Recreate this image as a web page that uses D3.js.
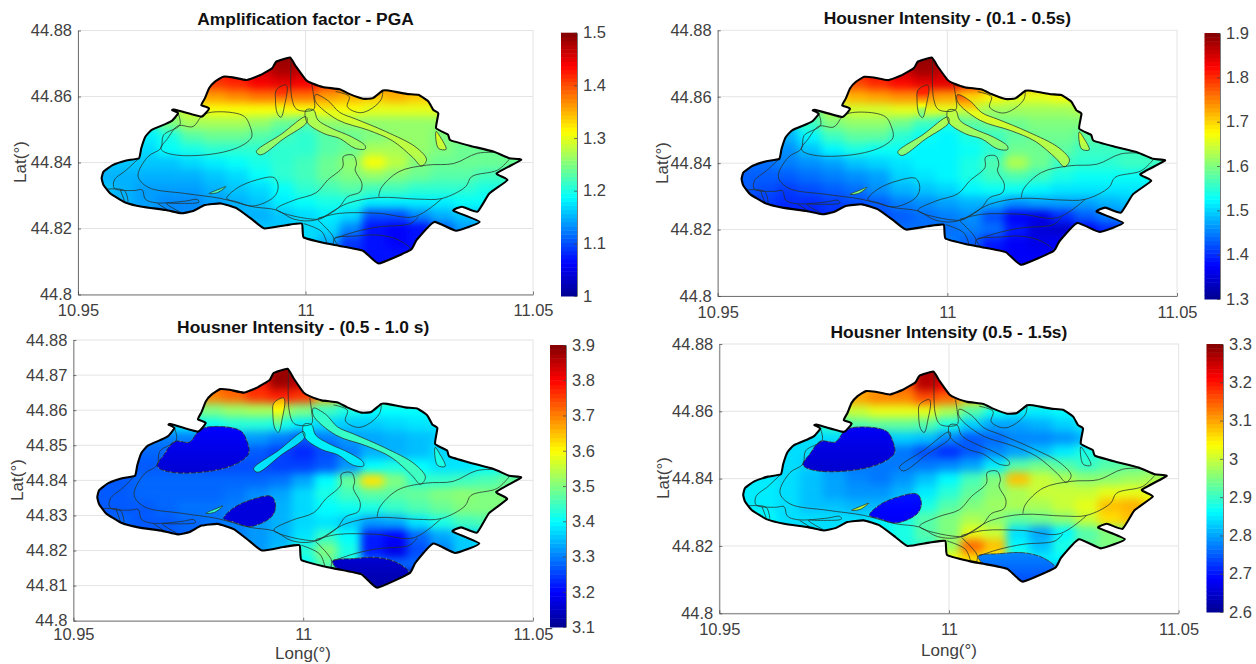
<!DOCTYPE html>
<html>
<head>
<meta charset="utf-8">
<script src="https://cdn.jsdelivr.net/npm/d3@7"></script>
<style>
  html, body { margin: 0; background: #fff; }
  text { font-family: "Liberation Sans", Arial, sans-serif; }
  .axis text { font-size: 16.5px; fill: #404040; }
  .axis path, .axis line { stroke: #404040; stroke-width: .7; }
  .grid line { stroke: #e4e4e4; stroke-width: 1; }
  .frame { fill: none; stroke: #e4e4e4; }
  .title { font-size: 17.4px; font-weight: bold; fill: #111; text-anchor: middle; }
  .lab { font-size: 17px; fill: #404040; text-anchor: middle; }
  .inner { fill: none; stroke: #26302c; stroke-width: .9; stroke-opacity: .85; }
  .coast { fill: none; stroke: #000; stroke-width: 2.1; stroke-linejoin: round; }
</style>
</head>
<body>
<div id="plot"></div>
<script>
const w = 1256, h = 664

// grid of the map cells
const gridLon = [10.955,10.96,10.965,10.97,10.975,10.98,10.985,10.99,10.995,11,11.005,11.01,11.015,11.02,11.025,11.03,11.035,11.04,11.045]
const gridLat = [44.872,44.868,44.864,44.86,44.856,44.852,44.848,44.844,44.84,44.836,44.832,44.828,44.824,44.82,44.816,44.812,44.808]

const ampPGA = [
  [1.4,1.4,1.4,1.4,1.4,1.42,1.44,1.46,1.49,1.49,1.46,1.42,1.4,1.4,1.38,1.35,1.3,1.3,1.3],
  [1.4,1.4,1.4,1.4,1.42,1.43,1.44,1.46,1.48,1.47,1.44,1.42,1.4,1.38,1.36,1.34,1.3,1.3,1.3],
  [1.35,1.35,1.35,1.36,1.38,1.41,1.42,1.44,1.45,1.44,1.41,1.39,1.38,1.37,1.35,1.33,1.3,1.28,1.26],
  [1.3,1.3,1.3,1.31,1.34,1.36,1.37,1.38,1.38,1.38,1.36,1.35,1.34,1.35,1.34,1.33,1.3,1.28,1.26],
  [1.25,1.25,1.25,1.27,1.29,1.31,1.31,1.31,1.31,1.31,1.31,1.31,1.3,1.3,1.3,1.3,1.28,1.26,1.25],
  [1.2,1.2,1.2,1.25,1.27,1.27,1.27,1.26,1.24,1.23,1.26,1.26,1.26,1.26,1.26,1.26,1.26,1.25,1.24],
  [1.18,1.18,1.18,1.2,1.23,1.24,1.24,1.23,1.22,1.21,1.23,1.24,1.25,1.26,1.26,1.25,1.25,1.24,1.24],
  [1.17,1.17,1.17,1.19,1.2,1.21,1.21,1.21,1.21,1.21,1.23,1.24,1.27,1.27,1.26,1.25,1.24,1.24,1.24],
  [1.16,1.16,1.16,1.16,1.17,1.18,1.19,1.2,1.21,1.22,1.24,1.26,1.31,1.28,1.25,1.24,1.24,1.24,1.24],
  [1.15,1.15,1.15,1.15,1.15,1.16,1.17,1.19,1.21,1.22,1.24,1.25,1.26,1.25,1.24,1.23,1.23,1.22,1.22],
  [1.16,1.15,1.14,1.14,1.14,1.15,1.16,1.17,1.19,1.21,1.22,1.23,1.22,1.22,1.21,1.21,1.21,1.2,1.2],
  [1.17,1.15,1.14,1.13,1.13,1.14,1.15,1.16,1.18,1.19,1.2,1.2,1.18,1.18,1.18,1.18,1.19,1.19,1.19],
  [1.17,1.15,1.14,1.13,1.13,1.14,1.15,1.15,1.16,1.17,1.18,1.17,1.1,1.1,1.13,1.15,1.16,1.16,1.16],
  [1.15,1.15,1.14,1.14,1.14,1.15,1.15,1.16,1.16,1.17,1.17,1.13,1.07,1.06,1.07,1.11,1.14,1.15,1.15],
  [1.15,1.15,1.15,1.15,1.15,1.15,1.15,1.16,1.16,1.17,1.15,1.09,1.07,1.06,1.07,1.1,1.12,1.14,1.15],
  [1.15,1.15,1.15,1.15,1.15,1.15,1.15,1.15,1.16,1.15,1.1,1.08,1.07,1.07,1.07,1.09,1.1,1.12,1.14],
  [1.15,1.15,1.15,1.15,1.15,1.15,1.15,1.15,1.16,1.15,1.1,1.08,1.07,1.07,1.07,1.09,1.1,1.12,1.14]
]

const housner0105 = [
  [1.8,1.8,1.8,1.8,1.8,1.82,1.84,1.86,1.89,1.89,1.86,1.82,1.8,1.78,1.76,1.72,1.68,1.65,1.62],
  [1.8,1.8,1.8,1.8,1.8,1.82,1.84,1.86,1.88,1.86,1.83,1.8,1.78,1.76,1.74,1.7,1.66,1.62,1.6],
  [1.72,1.72,1.72,1.74,1.76,1.78,1.8,1.82,1.84,1.84,1.8,1.76,1.74,1.72,1.72,1.7,1.65,1.62,1.6],
  [1.62,1.62,1.62,1.64,1.68,1.72,1.73,1.74,1.74,1.73,1.7,1.68,1.66,1.66,1.67,1.66,1.63,1.6,1.58],
  [1.56,1.56,1.56,1.58,1.63,1.65,1.65,1.66,1.66,1.66,1.64,1.62,1.62,1.62,1.62,1.63,1.6,1.58,1.56],
  [1.5,1.5,1.5,1.56,1.6,1.61,1.61,1.59,1.56,1.54,1.58,1.59,1.59,1.6,1.6,1.6,1.58,1.56,1.56],
  [1.48,1.48,1.48,1.52,1.56,1.58,1.58,1.55,1.53,1.52,1.54,1.56,1.58,1.59,1.59,1.58,1.57,1.56,1.56],
  [1.45,1.45,1.46,1.49,1.52,1.54,1.53,1.53,1.52,1.52,1.53,1.55,1.59,1.59,1.58,1.56,1.56,1.56,1.56],
  [1.44,1.44,1.45,1.46,1.47,1.49,1.5,1.51,1.52,1.52,1.54,1.57,1.63,1.59,1.56,1.55,1.55,1.56,1.56],
  [1.43,1.43,1.43,1.44,1.45,1.46,1.47,1.5,1.51,1.52,1.54,1.56,1.57,1.56,1.54,1.53,1.53,1.53,1.53],
  [1.43,1.42,1.41,1.42,1.43,1.44,1.46,1.48,1.49,1.5,1.52,1.53,1.53,1.52,1.51,1.51,1.51,1.51,1.51],
  [1.41,1.41,1.4,1.4,1.41,1.42,1.43,1.45,1.46,1.47,1.48,1.48,1.46,1.47,1.47,1.47,1.48,1.49,1.49],
  [1.4,1.4,1.39,1.39,1.4,1.41,1.42,1.43,1.44,1.45,1.46,1.42,1.37,1.36,1.4,1.43,1.45,1.45,1.45],
  [1.4,1.4,1.4,1.4,1.4,1.41,1.43,1.44,1.44,1.44,1.45,1.44,1.39,1.35,1.34,1.37,1.4,1.42,1.43],
  [1.4,1.4,1.4,1.4,1.4,1.41,1.43,1.44,1.44,1.45,1.43,1.39,1.37,1.36,1.37,1.38,1.4,1.42,1.43],
  [1.4,1.4,1.4,1.4,1.4,1.41,1.43,1.44,1.44,1.44,1.42,1.38,1.37,1.37,1.37,1.38,1.4,1.42,1.43],
  [1.4,1.4,1.4,1.4,1.4,1.41,1.43,1.44,1.44,1.44,1.42,1.38,1.37,1.37,1.37,1.38,1.4,1.42,1.43]
]

const housner0510 = [
  [3.7,3.7,3.7,3.7,3.7,3.72,3.74,3.78,3.88,3.88,3.8,3.65,3.5,3.5,3.5,3.5,3.5,3.5,3.5],
  [3.7,3.7,3.7,3.7,3.7,3.72,3.74,3.78,3.88,3.85,3.75,3.65,3.5,3.5,3.45,3.45,3.45,3.45,3.45],
  [3.6,3.6,3.6,3.62,3.66,3.7,3.72,3.76,3.78,3.76,3.66,3.56,3.52,3.5,3.48,3.45,3.42,3.42,3.42],
  [3.45,3.45,3.45,3.45,3.48,3.5,3.52,3.53,3.53,3.5,3.45,3.42,3.4,3.4,3.4,3.4,3.4,3.38,3.38],
  [3.38,3.38,3.38,3.38,3.39,3.41,3.43,3.43,3.42,3.39,3.37,3.36,3.36,3.37,3.38,3.38,3.38,3.38,3.38],
  [3.3,3.3,3.3,3.3,3.3,3.32,3.33,3.32,3.3,3.27,3.3,3.32,3.33,3.34,3.35,3.36,3.38,3.38,3.38],
  [3.28,3.28,3.28,3.28,3.27,3.28,3.28,3.27,3.25,3.23,3.26,3.3,3.34,3.34,3.35,3.37,3.38,3.38,3.38],
  [3.27,3.27,3.27,3.27,3.27,3.26,3.26,3.26,3.25,3.25,3.27,3.32,3.4,3.42,3.4,3.38,3.38,3.4,3.42],
  [3.27,3.27,3.28,3.28,3.28,3.28,3.28,3.28,3.29,3.33,3.4,3.48,3.62,3.5,3.44,3.44,3.45,3.46,3.48],
  [3.27,3.27,3.28,3.28,3.28,3.28,3.29,3.31,3.33,3.37,3.42,3.45,3.47,3.47,3.48,3.5,3.51,3.5,3.5],
  [3.27,3.27,3.27,3.28,3.29,3.29,3.3,3.32,3.34,3.37,3.4,3.41,3.42,3.44,3.46,3.48,3.5,3.5,3.5],
  [3.28,3.28,3.27,3.27,3.28,3.29,3.3,3.32,3.34,3.37,3.38,3.36,3.32,3.33,3.38,3.42,3.45,3.46,3.46],
  [3.28,3.28,3.27,3.27,3.28,3.29,3.3,3.32,3.34,3.38,3.44,3.4,3.22,3.2,3.28,3.33,3.36,3.38,3.38],
  [3.28,3.28,3.28,3.28,3.28,3.29,3.3,3.32,3.35,3.43,3.5,3.42,3.22,3.18,3.26,3.3,3.36,3.38,3.38],
  [3.28,3.28,3.28,3.28,3.28,3.29,3.3,3.32,3.35,3.4,3.47,3.42,3.3,3.28,3.28,3.3,3.3,3.36,3.38],
  [3.28,3.28,3.28,3.28,3.28,3.29,3.3,3.32,3.35,3.38,3.4,3.35,3.2,3.15,3.15,3.2,3.3,3.36,3.38],
  [3.28,3.28,3.28,3.28,3.28,3.29,3.3,3.32,3.35,3.38,3.4,3.35,3.2,3.15,3.15,3.2,3.3,3.36,3.38]
]

const housner0515 = [
  [3.1,3.1,3.1,3.1,3.1,3.1,3.1,3.12,3.27,3.27,3.2,3.1,3,3,3,3,3,3,3],
  [3.1,3.1,3.1,3.1,3.1,3.1,3.1,3.15,3.26,3.22,3.12,3.05,3,2.95,2.92,2.9,2.9,2.9,2.9],
  [3.05,3.05,3.05,3.05,3.07,3.1,3.12,3.12,3.16,3.14,3.07,3.02,2.95,2.92,2.92,2.9,2.88,2.88,2.88],
  [2.95,2.95,2.95,2.95,2.98,3,3.02,3.02,3.02,2.98,2.92,2.87,2.85,2.85,2.86,2.86,2.86,2.86,2.86],
  [2.88,2.88,2.88,2.88,2.9,2.92,2.93,2.93,2.92,2.88,2.83,2.8,2.8,2.81,2.83,2.85,2.86,2.86,2.86],
  [2.84,2.84,2.84,2.84,2.84,2.82,2.82,2.83,2.82,2.78,2.75,2.76,2.78,2.78,2.79,2.81,2.84,2.86,2.87],
  [2.84,2.84,2.84,2.84,2.8,2.78,2.78,2.77,2.74,2.72,2.75,2.78,2.8,2.82,2.85,2.88,2.9,2.9,2.9],
  [2.84,2.84,2.84,2.83,2.79,2.77,2.77,2.77,2.77,2.78,2.8,2.85,2.92,2.94,2.92,2.9,2.92,2.93,2.94],
  [2.85,2.85,2.84,2.82,2.8,2.78,2.77,2.79,2.82,2.86,2.91,2.95,3.08,3,2.98,2.96,2.96,2.97,2.98],
  [2.85,2.85,2.84,2.82,2.8,2.79,2.79,2.81,2.85,2.89,2.93,2.96,2.98,3,3,3,3.02,3.02,3.02],
  [2.85,2.85,2.84,2.82,2.82,2.81,2.81,2.84,2.88,2.92,2.95,2.97,2.98,2.98,3,3.02,3.08,3.09,3.05],
  [2.86,2.86,2.84,2.84,2.84,2.84,2.85,2.88,2.92,2.95,2.98,2.96,2.93,2.94,2.96,3,3.06,3.08,3.05],
  [2.86,2.86,2.84,2.84,2.84,2.85,2.86,2.88,2.92,2.95,3.02,3,2.84,2.8,2.86,2.92,2.95,2.96,2.96],
  [2.86,2.86,2.84,2.84,2.84,2.85,2.86,2.88,2.9,2.97,3.14,3.08,2.86,2.82,2.88,2.93,2.95,2.95,2.96],
  [2.86,2.86,2.84,2.84,2.84,2.85,2.86,2.88,2.9,3.03,3.06,3.03,2.9,2.85,2.86,2.9,2.88,2.95,2.96],
  [2.86,2.86,2.84,2.84,2.84,2.85,2.86,2.88,2.9,3,3,3,2.85,2.76,2.76,2.8,2.88,2.95,2.96],
  [2.86,2.86,2.84,2.84,2.84,2.85,2.86,2.88,2.9,3,3,3,2.85,2.76,2.76,2.8,2.88,2.95,2.96]
]

// municipal outline, lon/lat
const coast = [[10.9552,44.8352],[10.9556,44.8372],[10.9576,44.8392],[10.9606,44.8406],[10.9634,44.8413],[10.9639,44.8443],[10.9648,44.8478],[10.9662,44.8499],[10.9693,44.8517],[10.9707,44.8527],[10.972,44.8549],[10.9707,44.8559],[10.9714,44.856],[10.9771,44.8539],[10.9788,44.8564],[10.9771,44.8574],[10.9779,44.8595],[10.9788,44.8625],[10.9801,44.8645],[10.9819,44.866],[10.984,44.8658],[10.9871,44.865],[10.9901,44.8665],[10.9927,44.8686],[10.9936,44.8706],[10.9966,44.8718],[10.9979,44.8691],[11.0001,44.865],[11.0014,44.864],[11.004,44.8628],[11.0075,44.8622],[11.0096,44.8608],[11.0127,44.8593],[11.0148,44.8595],[11.017,44.8618],[11.0183,44.8618],[11.0222,44.8608],[11.0248,44.8605],[11.027,44.8585],[11.0281,44.8559],[11.0292,44.8549],[11.0287,44.8504],[11.0313,44.8485],[11.0318,44.8468],[11.0361,44.8451],[11.0413,44.8433],[11.0448,44.8413],[11.0474,44.8408],[11.042,44.8367],[11.0444,44.8347],[11.0404,44.8306],[11.0378,44.8251],[11.0344,44.8266],[11.0325,44.8254],[11.0383,44.822],[11.0331,44.8193],[11.0283,44.822],[11.0244,44.8165],[11.0231,44.8135],[11.0161,44.8094],[11.0127,44.8132],[11.0075,44.8147],[11.0044,44.8155],[10.9996,44.8173],[10.9992,44.8215],[10.9957,44.821],[10.991,44.82],[10.9884,44.8226],[10.9849,44.8261],[10.9814,44.8276],[10.9779,44.8271],[10.9753,44.8253],[10.9727,44.8246],[10.9693,44.8256],[10.9641,44.8266],[10.9604,44.8279],[10.9571,44.8306],[10.9556,44.8332]]

// closed zones
const lobeNW = [[10.9771,44.8539],[10.9788,44.8551],[10.984,44.8551],[10.9866,44.8539],[10.9877,44.8514],[10.9882,44.8478],[10.9866,44.8456],[10.9832,44.8436],[10.9779,44.8423],[10.9719,44.8422],[10.9688,44.8433],[10.9682,44.8443],[10.9697,44.8473],[10.972,44.8511],[10.9753,44.8509]]
const lobeMid = [[10.9827,44.8291],[10.9849,44.8322],[10.9892,44.8347],[10.9931,44.8354],[10.994,44.8327],[10.9931,44.8296],[10.9884,44.8268],[10.9849,44.8281]]
const lobeSE = [[11.0064,44.817],[11.0109,44.8177],[11.0161,44.818],[11.0205,44.8165],[11.0231,44.8135],[11.02,44.8112],[11.0161,44.8094],[11.0127,44.8132],[11.0075,44.8147]]
const armLeft = [[11.0001,44.8539],[10.9947,44.8486],[10.9892,44.8433],[10.9901,44.8423],[10.9952,44.8472],[11.0003,44.8522]]
const armRight = [[11.0001,44.8559],[11.0003,44.8523],[11.004,44.8488],[11.0075,44.8473],[11.0109,44.8443],[11.0131,44.8441],[11.0131,44.8451],[11.0101,44.8478],[11.0057,44.8504],[11.0027,44.8529],[11.0018,44.8559]]
const longBand = [[11.0022,44.8606],[11.0049,44.8588],[11.0075,44.8552],[11.011,44.8532],[11.0176,44.8494],[11.0243,44.8446],[11.0266,44.8409],[11.0255,44.8389],[11.0236,44.8415],[11.0191,44.8466],[11.0138,44.8498],[11.0071,44.8529],[11.0022,44.8585]]
const lens = [[10.9936,44.862],[10.9957,44.8635],[10.996,44.8625],[10.9955,44.858],[10.9946,44.8537],[10.9938,44.8549],[10.9934,44.859]]
const eastTongue = [[11.0287,44.8494],[11.0292,44.8443],[11.0309,44.844],[11.0296,44.8478]]
const sliver = [[10.9788,44.8306],[10.981,44.8319],[10.9825,44.8327],[10.9807,44.8309]]
const centreLobe = [[10.9936,44.8258],[10.9975,44.8286],[11.0023,44.8308],[11.0049,44.8347],[11.0082,44.8387],[11.0083,44.8418],[11.0105,44.8422],[11.0112,44.8397],[11.0109,44.8377],[11.0124,44.8337],[11.012,44.8311],[11.0092,44.8296],[11.0075,44.8266],[11.0049,44.8241],[11.0027,44.8228]]
const zones = [lobeNW, lobeMid, lobeSE, armLeft, armRight, longBand, lens, eastTongue, sliver]

// open stream lines
const streamMain = [[10.972,44.8549],[10.9724,44.8514],[10.9688,44.8483],[10.9682,44.8443],[10.9654,44.8418],[10.9632,44.8359],[10.9654,44.8325],[10.9736,44.8306],[10.9814,44.8291],[10.9884,44.8266],[10.9936,44.8256],[10.9975,44.8228],[11.0023,44.8226],[11.0092,44.8276],[11.0161,44.8294],[11.0248,44.8289],[11.03,44.8291],[11.0352,44.8327],[11.0365,44.8357],[11.0422,44.8377],[11.0448,44.841]]
const streamWest = [[10.9634,44.8413],[10.9606,44.8377],[10.958,44.8347],[10.958,44.8322],[10.9623,44.8315],[10.9641,44.8317],[10.9648,44.8289],[10.9671,44.8278],[10.9736,44.8283],[10.9762,44.8288],[10.9766,44.828],[10.9714,44.8276],[10.9694,44.8276],[10.9727,44.8248]]
const stripA = [[10.9562,44.8319],[10.9602,44.8315],[10.961,44.8281]]
const stripB = [[10.9593,44.8317],[10.9602,44.8284]]
const stripC = [[10.9675,44.8276],[10.97,44.8254]]
const streamCentre = [[10.9968,44.8711],[10.997,44.8595],[10.9981,44.8561],[11.0018,44.8561],[11.0018,44.86],[11.0014,44.8635]]
const upperRight = [[11.0066,44.8615],[11.0096,44.86],[11.0092,44.8569],[11.0118,44.8551],[11.014,44.8559],[11.0166,44.859],[11.017,44.8615]]
const eastLine = [[11.0161,44.8296],[11.0166,44.8322],[11.0205,44.8372],[11.0266,44.8392],[11.0326,44.8397],[11.0378,44.8428],[11.043,44.843]]
const southA = [[11.0027,44.8231],[11.0075,44.8246],[11.0161,44.8246],[11.024,44.8236],[11.03,44.8291]]
const southB = [[11.0064,44.817],[11.0109,44.819],[11.0161,44.8205],[11.0231,44.8215],[11.0248,44.8236]]
const southC = [[10.9996,44.8215],[11.0036,44.819],[11.0047,44.8155]]
const southD = [[11.0027,44.8226],[11.0053,44.819],[11.0062,44.817],[11.0059,44.8147]]
const streams = [streamMain, streamWest, stripA, stripB, stripC, streamCentre, upperRight, eastLine, southA, southB, southC, southD]

// colours of the zones, north to south, same order as zones; null = same as the field around
const zonesPGA = [null, null, null, [1.28,1.25], [1.28,1.26], [1.38,1.3,1.28,1.28,1.27], [1.43,1.41,1.36,1.3,1.27], [1.3,1.28], [1.24,1.22]]
const zones0105 = [null, null, null, [1.63,1.6], [1.64,1.6], [1.78,1.66,1.64,1.63,1.62], [1.82,1.8,1.72,1.62,1.58], [1.66,1.62], [1.6,1.6]]
const zones0510 = [[3.2,3.16], [3.17,3.17], [3.16,3.12], [3.37,3.38], [3.4,3.38], [3.44,3.45], [3.68,3.6,3.5,3.4], [3.42,3.42], [3.44,3.44]]
const zones0515 = [[2.68,2.65], [2.7,2.68], [2.78,2.74], null, null, null, null, null, [3,3]]

const jetPos = [0, 1/8, 3/8, 5/8, 7/8, 1]
const jetCols = ["#00008f", "#0000ff", "#00ffff", "#ffff00", "#ff0000", "#800000"]
const jet = d3.scaleLinear().domain(jetPos).range(jetCols).clamp(true)

const lonTicks = [10.95, 11, 11.05]
const latTicksWide = [44.8, 44.82, 44.84, 44.86, 44.88]
const latTicksFine = [44.8, 44.81, 44.82, 44.83, 44.84, 44.85, 44.86, 44.87, 44.88]

const panels = [
  {id: "p1", title: "Amplification factor - PGA", values: ampPGA, zones: zonesPGA, range: [1, 1.5], bar: [1, 1.1, 1.2, 1.3, 1.4, 1.5], latTicks: latTicksWide,
   box: [78, 533, 30.5, 294.5], cb: [561, 577, 32.7, 296], titleY: 25, latLab: [20.5, 162]},
  {id: "p2", title: "Housner Intensity - (0.1 - 0.5s)", values: housner0105, zones: zones0105, range: [1.3, 1.9], bar: [1.3, 1.4, 1.5, 1.6, 1.7, 1.8, 1.9], latTicks: latTicksWide,
   box: [717.7, 1177, 30.3, 296], cb: [1204.5, 1220, 33, 299], titleY: 24, latLab: [662, 163]},
  {id: "p3", title: "Housner Intensity - (0.5 - 1.0 s)", values: housner0510, zones: zones0510, range: [3.1, 3.9], bar: [3.1, 3.2, 3.3, 3.4, 3.5, 3.6, 3.7, 3.8, 3.9], latTicks: latTicksFine,
   box: [73.4, 533, 340, 620.7], cb: [550, 566, 345, 627], titleY: 333, latLab: [16.6, 480], lonLab: [303, 659], lonPad: 8},
  {id: "p4", title: "Housner Intensity (0.5 - 1.5s)", values: housner0515, zones: zones0515, range: [2.6, 3.3], bar: [2.6, 2.7, 2.8, 2.9, 3, 3.1, 3.2, 3.3], latTicks: latTicksWide,
   box: [719.3, 1178.6, 344, 613.3], cb: [1206.5, 1223, 344, 612], titleY: 338, latLab: [662.7, 478], lonLab: [949, 656]}
]

const svg = d3.select("#plot").append("svg")
  .attr("width", w)
  .attr("height", h)
  .style("display", "block")

const defs = svg.append("defs")
defs.append("filter")
  .attr("id", "soft")
  .attr("x", "-5%").attr("y", "-5%").attr("width", "110%").attr("height", "110%")
  .attr("color-interpolation-filters", "sRGB")
  .append("feGaussianBlur")
  .attr("stdDeviation", 4.5)
defs.append("filter")
  .attr("id", "softer")
  .attr("color-interpolation-filters", "sRGB")
  .append("feGaussianBlur")
  .attr("stdDeviation", 0.6)

const drawPanel = (p) => {
  const [x0, x1, y0, y1] = p.box
  const x = d3.scaleLinear().domain([10.95, 11.05]).range([x0, x1]),
        y = d3.scaleLinear().domain([44.8, 44.88]).range([y1, y0]),
        col = d3.scaleLinear().domain(p.range).range([0, 1]),
        color = v => jet(col(v)),
        g = svg.append("g").attr("id", p.id)

  const outline = d3.line().x(d => x(d[0])).y(d => y(d[1])).curve(d3.curveCardinalClosed.tension(0.6))
  const smoothOpen = d3.line().x(d => x(d[0])).y(d => y(d[1])).curve(d3.curveCatmullRom)
  const smoothClosed = d3.line().x(d => x(d[0])).y(d => y(d[1])).curve(d3.curveCatmullRomClosed)

  defs.append("clipPath").attr("id", `${p.id}-clip`)
    .append("path").attr("d", outline(coast))

  // grid
  const grid = g.append("g").attr("class", "grid")
  grid.selectAll(".gx").data(lonTicks.slice(1, -1)).join("line")
    .attr("x1", d => x(d)).attr("x2", d => x(d)).attr("y1", y0).attr("y2", y1)
  grid.selectAll(".gy").data(p.latTicks.slice(1, -1)).join("line")
    .attr("x1", x0).attr("x2", x1).attr("y1", d => y(d)).attr("y2", d => y(d))
  g.append("rect").attr("class", "frame")
    .attr("x", x0).attr("y", y0).attr("width", x1 - x0).attr("height", y1 - y0)

  // field, cut to the outline
  const map = g.append("g").attr("clip-path", `url(#${p.id}-clip)`)
  const cells = map.append("g").attr("filter", "url(#soft)")
  p.values.forEach((row, r) => {
    row.forEach((v, c) => {
      // edge cells run on past the outline so the blur doesn't fade there
      const west = gridLon[c] - (c == 0 ? 0.012 : 0.0025),
            east = gridLon[c] + (c == row.length - 1 ? 0.012 : 0.0025),
            north = gridLat[r] + (r == 0 ? 0.012 : 0.002),
            south = gridLat[r] - (r == p.values.length - 1 ? 0.012 : 0.002)
      cells.append("rect")
        .attr("x", x(west)).attr("y", y(north))
        .attr("width", x(east) - x(west) + .5).attr("height", y(south) - y(north) + .5)
        .attr("fill", color(v))
    })
  })

  // zones with their own level
  zones.forEach((zone, i) => {
    const lev = p.zones[i]
    if (!lev) return
    const gid = `${p.id}-zone${i}`,
          grad = defs.append("linearGradient").attr("id", gid)
            .attr("x1", 0).attr("x2", 0).attr("y1", 0).attr("y2", 1),
          t = d3.scaleLinear().domain(lev.map((d, k) => k / (lev.length - 1))).range(lev)
    d3.range(0, 1.01, .125).forEach(o => {
      grad.append("stop").attr("offset", o).attr("stop-color", color(t(o)))
    })
    map.append("path")
      .attr("d", smoothClosed(zone))
      .attr("fill", `url(#${gid})`)
      .attr("filter", "url(#softer)")
    if (i < 3) {
      map.append("path")
        .attr("d", smoothClosed(zone))
        .attr("fill", "none")
        .attr("stroke", "#fff")
        .attr("stroke-width", 1)
        .attr("stroke-dasharray", "1.5 5")
        .attr("stroke-opacity", .8)
    }
  })

  // thin lines
  zones.concat([centreLobe]).forEach(zone => {
    map.append("path").attr("class", "inner").attr("d", smoothClosed(zone))
  })
  streams.forEach(s => {
    map.append("path").attr("class", "inner").attr("d", smoothOpen(s))
  })
  g.append("path").attr("class", "coast").attr("d", outline(coast))

  // axes
  g.append("g")
    .attr("class", "axis")
    .attr("transform", `translate(0,${y1})`)
    .call(d3.axisBottom(x).tickValues(lonTicks).tickFormat(String).tickSizeInner(-3).tickSizeOuter(0).tickPadding(p.lonPad || 10))
  g.append("g")
    .attr("class", "axis")
    .attr("transform", `translate(${x0},0)`)
    .call(d3.axisLeft(y).tickValues(p.latTicks).tickFormat(String).tickSizeInner(-3).tickSizeOuter(0).tickPadding(6))

  g.append("text").attr("class", "title")
    .attr("x", x(11)).attr("y", p.titleY).text(p.title)
  g.append("text").attr("class", "lab")
    .attr("transform", `translate(${p.latLab[0]},${p.latLab[1]}) rotate(-90)`)
    .attr("dy", "0.35em").text("Lat(°)")
  if (p.lonLab) {
    g.append("text").attr("class", "lab")
      .attr("x", p.lonLab[0]).attr("y", p.lonLab[1]).text("Long(°)")
  }

  // colorbar
  const [bx0, bx1, by0, by1] = p.cb
  const bar = d3.scaleLinear().domain(p.range).range([by1, by0]),
        steps = d3.range(64)
  const step = (p.range[1] - p.range[0]) / 64
  g.append("g").selectAll("rect").data(steps).join("rect")
    .attr("x", bx0)
    .attr("width", bx1 - bx0)
    .attr("y", d => bar(p.range[0] + (d + 1) * step))
    .attr("height", (by1 - by0) / 64 + .5)
    .attr("fill", d => color(p.range[0] + (d + .5) * step))
  g.append("g")
    .attr("class", "axis")
    .attr("transform", `translate(${bx1},0)`)
    .call(d3.axisRight(bar).tickValues(p.bar).tickFormat(String).tickSizeInner(-3).tickSizeOuter(0).tickPadding(6))
    .select(".domain").attr("stroke", "#888")
}

panels.forEach(drawPanel)
</script>
</body>
</html>
